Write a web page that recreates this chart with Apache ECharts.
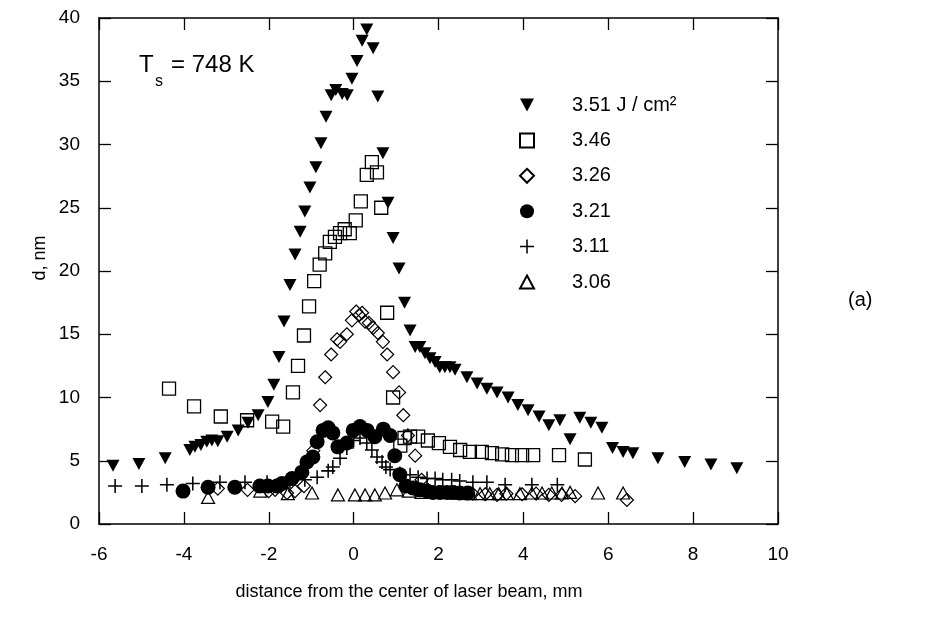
<!DOCTYPE html>
<html>
<head>
<meta charset="utf-8">
<script src="https://cdn.jsdelivr.net/npm/echarts@6/dist/echarts.min.js"></script>
<style>
html,body{margin:0;padding:0;background:#fff;}
#chart{width:931px;height:628px;}
</style>
</head>
<body>
<div id="chart"></div>
<script>
// ---- data (x in mm, d in nm) ----
const seriesNames = ['3.51', '3.46', '3.26', '3.21', '3.11', '3.06'];

const s351 = [
  [-5.67,4.6],[-5.06,4.75],[-4.44,5.2],[-3.86,5.85],[-3.74,6.1],[-3.6,6.25],[-3.46,6.5],[-3.34,6.6],
  [-3.2,6.55],[-2.98,6.9],[-2.72,7.4],[-2.49,8.0],[-2.25,8.6],[-2.02,9.65],[-1.88,11.0],[-1.76,13.2],
  [-1.64,16.0],[-1.5,18.9],[-1.38,21.3],[-1.26,23.1],[-1.15,24.7],[-1.03,26.6],[-0.89,28.2],[-0.77,30.1],
  [-0.65,32.2],[-0.53,33.9],[-0.42,34.3],[-0.27,34.0],[-0.15,33.9],[-0.04,35.2],[0.08,36.6],[0.2,38.2],
  [0.31,39.1],[0.46,37.6],[0.57,33.8],[0.69,29.3],[0.81,25.4],[0.93,22.6],[1.07,20.2],[1.2,17.5],
  [1.33,15.3],[1.45,14.0],[1.56,14.0],[1.68,13.5],[1.8,13.1],[1.92,12.8],[2.03,12.4],[2.15,12.4],
  [2.27,12.4],[2.39,12.2],[2.67,11.6],[2.91,11.1],[3.14,10.7],[3.38,10.4],[3.64,10.0],[3.87,9.4],
  [4.11,9.0],[4.37,8.5],[4.6,7.8],[4.86,8.2],[5.1,6.7],[5.33,8.4],[5.59,8.0],[5.85,7.6],
  [6.1,6.0],[6.35,5.7],[6.58,5.6],[7.17,5.2],[7.8,4.9],[8.42,4.7],[9.03,4.4]
];
const s346 = [
  [-4.35,10.7],[-3.76,9.3],[-3.13,8.5],[-2.51,8.2],[-1.92,8.1],[-1.66,7.7],[-1.43,10.4],[-1.31,12.5],
  [-1.17,14.9],[-1.05,17.2],[-0.93,19.2],[-0.8,20.5],[-0.67,21.4],[-0.56,22.3],[-0.44,22.7],[-0.32,23.0],
  [-0.21,23.3],[-0.09,23.0],[0.05,24.0],[0.17,25.5],[0.31,27.6],[0.43,28.6],[0.55,27.8],[0.65,25.0],
  [0.79,16.7],[0.93,10.0],[1.1,6.2],[1.2,6.8],[1.33,6.9],[1.52,6.9],[1.75,6.6],[2.01,6.4],
  [2.27,6.1],[2.51,5.85],[2.74,5.7],[3.02,5.7],[3.26,5.6],[3.5,5.5],[3.73,5.45],[3.97,5.45],
  [4.23,5.45],[4.84,5.45],[5.45,5.1]
];
const s326 = [
  [-3.2,2.8],[-2.5,2.7],[-2.0,2.6],[-1.85,2.7],[-1.57,2.45],[-1.38,2.6],[-1.17,3.0],[-0.95,5.8],
  [-0.79,9.4],[-0.67,11.6],[-0.53,13.4],[-0.39,14.6],[-0.32,14.4],[-0.16,15.0],[-0.04,16.1],[0.06,16.8],
  [0.13,16.5],[0.2,16.7],[0.27,16.0],[0.36,15.9],[0.46,15.5],[0.57,15.1],[0.69,14.4],[0.79,13.4],
  [0.93,12.0],[1.07,10.4],[1.17,8.6],[1.28,7.0],[1.45,5.4],[1.6,3.5],[1.75,2.7],[2.0,2.5],
  [2.4,2.5],[2.8,2.4],[3.1,2.35],[3.38,2.3],[3.6,2.4],[3.97,2.35],[4.3,2.4],[4.6,2.3],
  [4.9,2.3],[5.22,2.2],[6.44,1.9]
];
const s321 = [
  [-4.02,2.6],[-3.43,2.9],[-2.8,2.9],[-2.21,3.0],[-2.02,3.0],[-1.81,3.0],[-1.69,3.2],[-1.45,3.6],
  [-1.22,4.1],[-1.1,4.9],[-0.96,5.3],[-0.86,6.5],[-0.72,7.4],[-0.6,7.6],[-0.49,7.2],[-0.37,6.1],
  [-0.16,6.4],[-0.01,7.4],[0.15,7.7],[0.32,7.4],[0.5,6.9],[0.7,7.5],[0.86,7.0],[0.97,5.4],
  [1.09,3.9],[1.23,3.0],[1.4,2.85],[1.56,2.7],[1.73,2.6],[1.87,2.5],[2.04,2.5],[2.2,2.5],
  [2.34,2.5],[2.5,2.45],[2.69,2.45]
];
const s311 = [
  [-5.62,3.0],[-4.99,3.0],[-4.4,3.1],[-3.79,3.2],[-3.15,3.3],[-2.56,3.3],[-2.04,3.3],[-1.5,3.4],
  [-1.15,3.5],[-0.86,3.7],[-0.6,4.2],[-0.49,4.5],[-0.32,5.2],[-0.16,6.0],[0.0,6.6],[0.15,6.8],
  [0.31,6.4],[0.43,5.85],[0.55,5.3],[0.67,4.9],[0.76,4.5],[0.86,4.3],[1.09,4.0],[1.33,3.9],
  [1.52,3.7],[1.73,3.6],[1.92,3.6],[2.1,3.5],[2.31,3.5],[2.5,3.4],[2.81,3.3],[3.14,3.3],
  [3.57,3.1],[4.2,3.1],[4.8,3.1]
];
const s306 = [
  [-3.43,2.1],[-2.2,2.6],[-1.55,2.4],[-0.98,2.45],[-0.37,2.3],[0.03,2.3],[0.27,2.3],[0.5,2.3],
  [0.74,2.45],[1.02,2.7],[1.3,2.6],[1.6,2.5],[2.0,2.5],[2.4,2.45],[2.75,2.4],[2.98,2.4],
  [3.21,2.4],[3.42,2.4],[3.61,2.4],[3.92,2.4],[4.2,2.45],[4.44,2.45],[4.67,2.45],[4.91,2.45],
  [5.1,2.5],[5.76,2.45],[6.35,2.45]
];

const xMin = -6, xMax = 10, xStep = 2;
const yMin = 0, yMax = 40, yStep = 5;

const xTitle = 'distance from the center of laser beam, mm';
const yTitle = 'd, nm';
const legendUnit = ' J / cm²';

// ---- chart ----
const FONT = '"Liberation Sans", Arial, sans-serif';
const chart = echarts.init(document.getElementById('chart'), null, {renderer: 'canvas'});

const crossPath = 'path://M0,4.45H10V5.55H0Z M4.45,0H5.55V10H4.45Z';
const downTriPath = 'path://M0,0L10,0L5,9.2Z';
const upTriPath = 'path://M5,0L10,9.2L0,9.2Z';

function axisCommon() {
  return {
    axisLine: {show: true, onZero: false, lineStyle: {color: '#000', width: 1.5}},
    axisTick: {show: true, inside: true, length: 12, lineStyle: {color: '#000', width: 1.3}},
    splitLine: {show: false}
  };
}

const option = {
  animation: false,
  backgroundColor: '#fff',
  textStyle: {fontFamily: FONT, color: '#000'},
  grid: {left: 99, right: 153, top: 18, bottom: 104, containLabel: false},
  xAxis: [
    Object.assign({type: 'value', min: xMin, max: xMax, interval: xStep, position: 'bottom',
      axisLabel: {color: '#000', fontSize: 19, margin: 21, fontFamily: FONT}}, axisCommon()),
    Object.assign({type: 'value', min: xMin, max: xMax, interval: xStep, position: 'top',
      axisLabel: {show: false}}, axisCommon())
  ],
  yAxis: [
    Object.assign({type: 'value', min: yMin, max: yMax, interval: yStep, position: 'left',
      axisLabel: {color: '#000', fontSize: 19, margin: 19, fontFamily: FONT}}, axisCommon()),
    Object.assign({type: 'value', min: yMin, max: yMax, interval: yStep, position: 'right',
      axisLabel: {show: false}}, axisCommon())
  ],
  legend: {
    orient: 'vertical',
    left: 514,
    top: 90,
    itemWidth: 14,
    itemHeight: 14,
    itemGap: 15.4,
    data: seriesNames,
    formatter: function (name) {
      return '{g|}{t|' + name + (name === '3.51' ? legendUnit : '') + '}';
    },
    textStyle: {
      fontFamily: FONT,
      color: '#000',
      rich: {
        g: {width: 33, fontSize: 20, lineHeight: 20},
        t: {fontSize: 20, lineHeight: 20, fontFamily: FONT, color: '#000'}
      }
    }
  },
  graphic: [
    {type: 'text', left: 139, top: 53, style: {text: 'T', font: '24px ' + FONT, fill: '#000'}},
    {type: 'text', left: 155, top: 74, style: {text: 's', font: '16px ' + FONT, fill: '#000'}},
    {type: 'text', left: 171, top: 53, style: {text: '= 748 K', font: '24px ' + FONT, fill: '#000'}},
    {type: 'text', left: 848, top: 290, style: {text: '(a)', font: '20px ' + FONT, fill: '#000'}},
    {type: 'text', x: 409, y: 592, style: {text: xTitle, font: '18px ' + FONT, fill: '#000', align: 'center', verticalAlign: 'middle'}},
    {type: 'text', x: 40, y: 258, rotation: Math.PI / 2, style: {text: yTitle, font: '18px ' + FONT, fill: '#000', align: 'center', verticalAlign: 'middle'}}
  ],
  series: [
    {name: '3.51', type: 'scatter', data: s351, symbol: downTriPath, symbolSize: [13, 12],
      itemStyle: {color: '#000', opacity: 1}, z: 6},
    {name: '3.46', type: 'scatter', data: s346, symbol: 'rect', symbolSize: 13,
      itemStyle: {color: 'rgba(0,0,0,0)', borderColor: '#000', borderWidth: 1.3, opacity: 1}, z: 5},
    {name: '3.26', type: 'scatter', data: s326, symbol: 'diamond', symbolSize: 13,
      itemStyle: {color: 'rgba(0,0,0,0)', borderColor: '#000', borderWidth: 1.2, opacity: 1}, z: 3},
    {name: '3.21', type: 'scatter', data: s321, symbol: 'circle', symbolSize: 15,
      itemStyle: {color: '#000', opacity: 1}, z: 4},
    {name: '3.11', type: 'scatter', data: s311, symbol: crossPath, symbolSize: 14,
      itemStyle: {color: '#000', opacity: 1}, z: 3},
    {name: '3.06', type: 'scatter', data: s306, symbol: upTriPath, symbolSize: [13, 12],
      itemStyle: {color: 'rgba(0,0,0,0)', borderColor: '#000', borderWidth: 1.2, opacity: 1}, z: 2}
  ]
};
chart.setOption(option);
</script>
</body>
</html>
